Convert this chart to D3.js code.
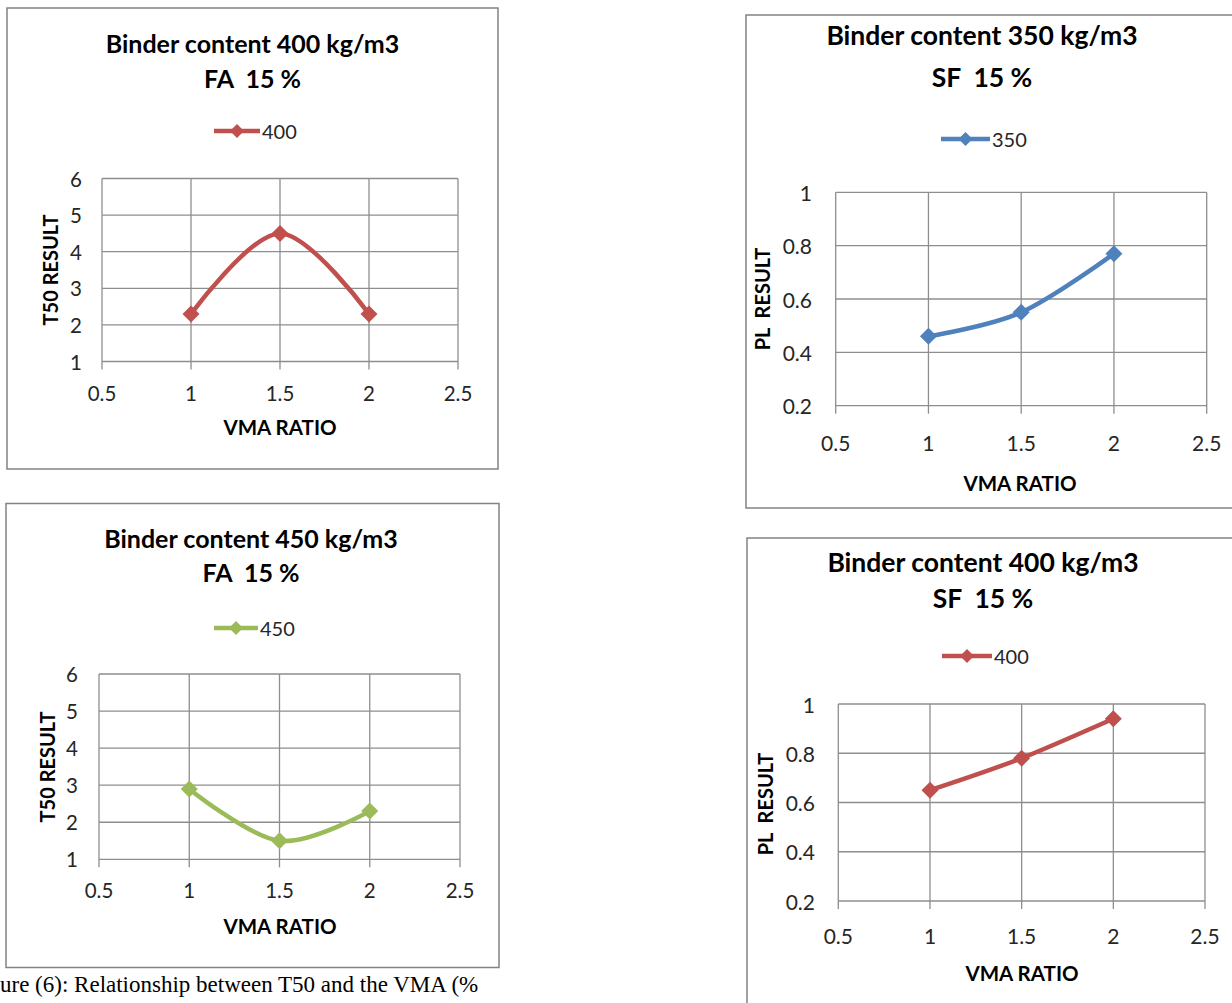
<!DOCTYPE html>
<html>
<head>
<meta charset="utf-8">
<script src="https://cdn.jsdelivr.net/npm/d3@7/dist/d3.min.js"></script>
<style>
  html, body { margin: 0; padding: 0; background: #fff; }
  svg { display: block; }
  text { font-family: Lato, "Noto Sans", sans-serif; white-space: pre; }
</style>
</head>
<body>
<svg id="fig" width="1232" height="1003"></svg>
<script>
// ---- data ----
const vmaRatio = [1, 1.5, 2];
const t50Binder400FA = [2.3, 4.5, 2.3];
const t50Binder450FA = [2.9, 1.5, 2.3];
const plBinder350SF = [0.46, 0.55, 0.77];
const plBinder400SF = [0.65, 0.78, 0.94];

const xTicks = [0.5, 1, 1.5, 2, 2.5];
const t50Ticks = [1, 2, 3, 4, 5, 6];
const plTicks = [0.2, 0.4, 0.6, 0.8, 1];

const seriesNames = ["400", "450", "350", "400"];
const titleLines = [
  ["Binder content 400 kg/m3", "FA  15 %"],
  ["Binder content 450 kg/m3", "FA  15 %"],
  ["Binder content 350 kg/m3", "SF  15 %"],
  ["Binder content 400 kg/m3", "SF  15 %"]
];
const xTitle = "VMA RATIO";
const yTitles = ["T50 RESULT", "T50 RESULT", "PL  RESULT", "PL  RESULT"];
const caption = "ure (6): Relationship between T50 and the VMA (%";

// ---- styling ----
const RED = "#c0504d", GREEN = "#9bbb59", BLUE = "#4f81bd";
const GRID = "#8e8e8e";
const svg = d3.select("#fig");

// Excel-style smoothed line: control points at ±1/6 of neighbour span
const smooth = d3.curveCardinal.tension(0);

function diamond(r) {
  return `M0,${-r}L${r},0L0,${r}L${-r},0Z`;
}

function panel(opt) {
  const g = svg.append("g");

  // chart frame
  g.append("rect")
    .attr("x", opt.frame[0]).attr("y", opt.frame[1])
    .attr("width", opt.frame[2]).attr("height", opt.frame[3])
    .attr("fill", "#fff").attr("stroke", "#828282").attr("stroke-width", 1.5);

  const x = d3.scaleLinear().domain([0.5, 2.5]).range([opt.plot.l, opt.plot.r]);
  const y = d3.scaleLinear().domain(opt.yDomain).range([opt.plot.b, opt.plot.t]);

  // titles
  opt.title.forEach((line, i) => {
    g.append("text").text(line)
      .attr("x", opt.titleX).attr("y", opt.titleY[i])
      .attr("text-anchor", "middle").attr("dominant-baseline", "central")
      .attr("font-weight", 700).attr("font-size", opt.titleSize).attr("fill", "#000");
  });

  // legend
  const lg = g.append("g");
  lg.append("line")
    .attr("x1", opt.legend.x1).attr("x2", opt.legend.x2)
    .attr("y1", opt.legend.y).attr("y2", opt.legend.y)
    .attr("stroke", opt.color).attr("stroke-width", 4.5);
  lg.append("path")
    .attr("d", diamond(7))
    .attr("transform", `translate(${(opt.legend.x1 + opt.legend.x2) / 2},${opt.legend.y})`)
    .attr("fill", opt.color);
  lg.append("text").text(opt.name)
    .attr("x", opt.legend.x2 + 2).attr("y", opt.legend.y)
    .attr("dominant-baseline", "central")
    .attr("font-size", 20).attr("fill", "#262626");

  // horizontal gridlines
  g.append("g").selectAll("line").data(opt.yTicks).join("line")
    .attr("x1", opt.plot.l).attr("x2", opt.plot.r)
    .attr("y1", d => y(d)).attr("y2", d => y(d))
    .attr("stroke", GRID).attr("stroke-width", 1.3);

  // vertical gridlines with tick marks below the axis
  g.append("g").selectAll("line").data(xTicks).join("line")
    .attr("x1", d => x(d)).attr("x2", d => x(d))
    .attr("y1", opt.plot.t).attr("y2", opt.plot.b + 8)
    .attr("stroke", GRID).attr("stroke-width", 1.3);

  // tick labels
  g.append("g").selectAll("text").data(opt.yTicks).join("text")
    .text(d => String(d))
    .attr("x", opt.yLabelX).attr("y", d => y(d))
    .attr("text-anchor", "end").attr("dominant-baseline", "central")
    .attr("font-size", opt.tickSize).attr("fill", "#262626");
  g.append("g").selectAll("text").data(xTicks).join("text")
    .text(d => String(d))
    .attr("x", d => x(d)).attr("y", opt.xLabelY)
    .attr("text-anchor", "middle").attr("dominant-baseline", "central")
    .attr("font-size", opt.tickSize).attr("fill", "#262626");

  // axis titles
  g.append("text").text(xTitle)
    .attr("x", opt.xTitlePos[0]).attr("y", opt.xTitlePos[1])
    .attr("text-anchor", "middle").attr("dominant-baseline", "central")
    .attr("font-weight", 700).attr("font-size", 20.5).attr("fill", "#000");
  g.append("text").text(opt.yTitle)
    .attr("transform", `translate(${opt.yTitlePos[0]},${opt.yTitlePos[1]}) rotate(-90)`)
    .attr("text-anchor", "middle").attr("dominant-baseline", "central")
    .attr("font-weight", 700).attr("font-size", 20).attr("fill", "#000");

  // series
  const pts = vmaRatio.map((v, i) => [v, opt.values[i]]);
  g.append("path")
    .datum(pts)
    .attr("d", d3.line().x(d => x(d[0])).y(d => y(d[1])).curve(smooth))
    .attr("fill", "none").attr("stroke", opt.color)
    .attr("stroke-width", 4.5).attr("stroke-linejoin", "round").attr("stroke-linecap", "round");
  g.append("g").selectAll("path").data(pts).join("path")
    .attr("d", diamond(8.5))
    .attr("transform", d => `translate(${x(d[0])},${y(d[1])})`)
    .attr("fill", opt.color);
}

// T50, binder 400, fly ash
panel({
  frame: [7, 8, 491, 461],
  plot: { l: 102, r: 458, t: 178.5, b: 361.5 },
  yDomain: [1, 6], yTicks: t50Ticks, values: t50Binder400FA,
  color: RED, name: seriesNames[0], title: titleLines[0], yTitle: yTitles[0],
  titleX: 252.5, titleY: [43, 78], titleSize: 25,
  legend: { x1: 214, x2: 260, y: 131 },
  yLabelX: 82, xLabelY: 393, tickSize: 20.5,
  xTitlePos: [280, 427], yTitlePos: [50, 270]
});

// T50, binder 450, fly ash
panel({
  frame: [6, 503.5, 493, 464],
  plot: { l: 99, r: 460, t: 674, b: 859.3 },
  yDomain: [1, 6], yTicks: t50Ticks, values: t50Binder450FA,
  color: GREEN, name: seriesNames[1], title: titleLines[1], yTitle: yTitles[1],
  titleX: 251, titleY: [538, 572], titleSize: 25,
  legend: { x1: 214, x2: 258, y: 628 },
  yLabelX: 78, xLabelY: 890, tickSize: 20.5,
  xTitlePos: [280, 926], yTitlePos: [47, 767]
});

// PL, binder 350, silica fume
panel({
  frame: [746, 15, 500, 493],
  plot: { l: 835.7, r: 1206.7, t: 192.3, b: 405.7 },
  yDomain: [0.2, 1], yTicks: plTicks, values: plBinder350SF,
  color: BLUE, name: seriesNames[2], title: titleLines[2], yTitle: yTitles[2],
  titleX: 982, titleY: [35, 77], titleSize: 26.5,
  legend: { x1: 941, x2: 990, y: 139 },
  yLabelX: 812, xLabelY: 442, tickSize: 21,
  xTitlePos: [1020, 483], yTitlePos: [762, 299]
});

// PL, binder 400, silica fume
panel({
  frame: [747, 538, 500, 480],
  plot: { l: 838.3, r: 1205, t: 704, b: 901 },
  yDomain: [0.2, 1], yTicks: plTicks, values: plBinder400SF,
  color: RED, name: seriesNames[3], title: titleLines[3], yTitle: yTitles[3],
  titleX: 983, titleY: [562, 598], titleSize: 26.5,
  legend: { x1: 942, x2: 992, y: 656 },
  yLabelX: 815, xLabelY: 935, tickSize: 21,
  xTitlePos: [1022, 973], yTitlePos: [765, 804]
});

// figure caption
svg.append("text").text(caption)
  .attr("x", 0).attr("y", 992)
  .style("font-family", "'Liberation Serif', 'Times New Roman', serif")
  .attr("font-size", 23).attr("fill", "#000");
</script>
</body>
</html>
